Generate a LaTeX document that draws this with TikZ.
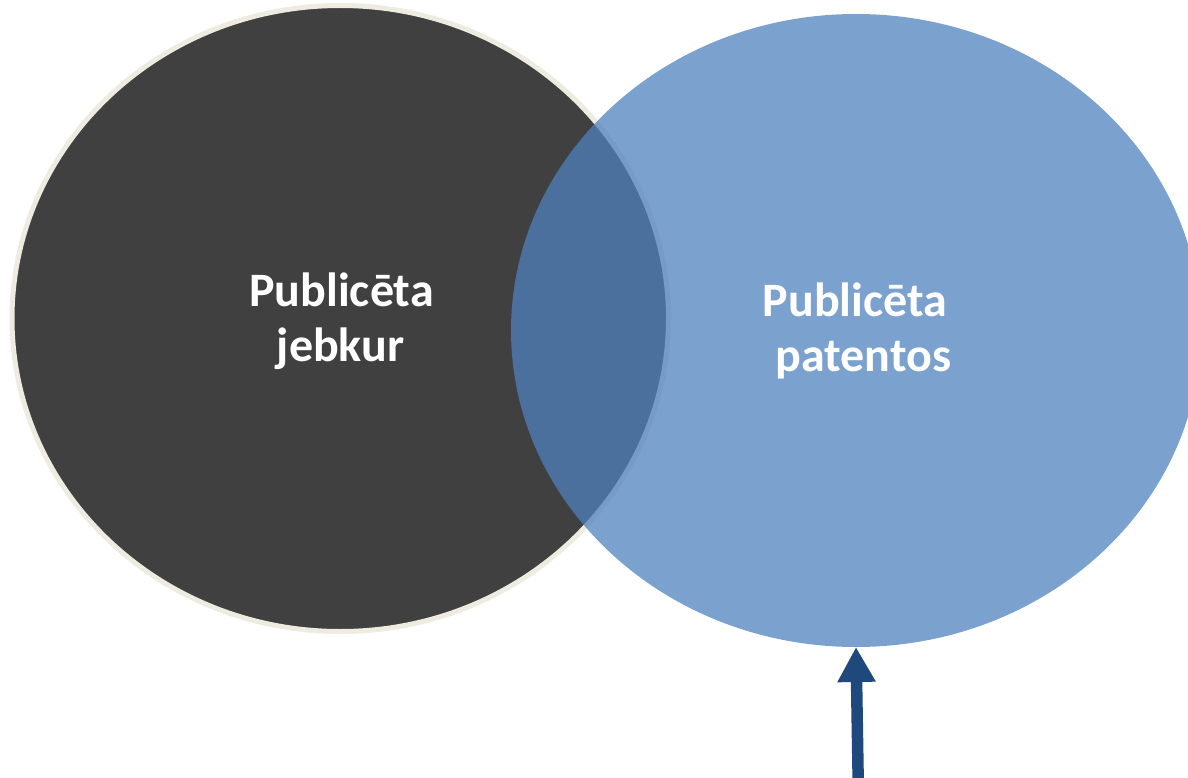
\documentclass[tikz,border=0pt]{standalone}
\usepackage{fontspec}
\setmainfont{Carlito}
\usetikzlibrary{shapes.geometric,arrows.meta}
\definecolor{darkfill}{HTML}{404040}
\definecolor{rimcol}{HTML}{EEECE1}
\definecolor{bluefill}{HTML}{4F81BD}
\definecolor{arrowcol}{HTML}{1F497D}
\tikzset{
  setshape/.style={ellipse, inner sep=0pt, outer sep=0pt},
  darkset/.style={setshape, fill=darkfill, draw=rimcol, line width=5pt},
  blueset/.style={setshape, fill=bluefill, fill opacity=0.75},
  lbl/.style={text=white, font=\fontsize{48}{56}\selectfont\bfseries, inner sep=0pt, anchor=base},
  pointer/.style={draw=arrowcol, line width=11.5pt, -{Triangle[width=36pt,length=35pt]}}
}
\begin{document}
\begin{tikzpicture}[x=1pt,y=-1pt]
\useasboundingbox (0,0) rectangle (1188,778);
\node[darkset, minimum width=656.5pt, minimum height=626pt] (anywhere) at (340.25,318.5) {};
\node[blueset, minimum width=690pt, minimum height=633pt] (patent) at (856,330.5) {};
\node[lbl] (a1) at (341.5,306.7) {Publicēta};
\node[lbl] (a2) at (340.5,361.7) {jebkur};
\node[lbl] (b1) at (855,316.7) {Publicēta};
\node[lbl] (b2) at (863.3,371.7) {patentos};
\coordinate (tail) at (858.5,800);
\draw[pointer] (tail) -- (patent.south);
\end{tikzpicture}
\end{document}
